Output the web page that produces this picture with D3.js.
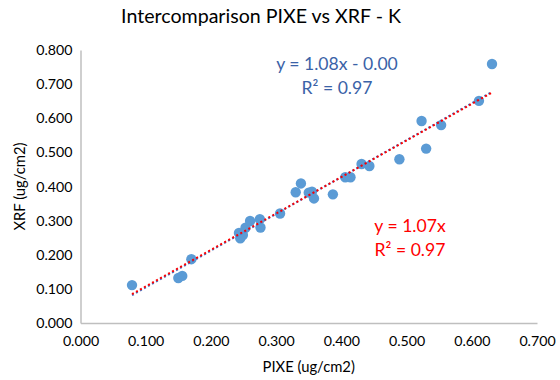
<!DOCTYPE html>
<html>
<head>
<meta charset="utf-8">
<script src="https://cdn.jsdelivr.net/npm/d3@7"></script>
<style>
  body { margin: 0; background: #fff; }
  text { font-family: Lato, "Open Sans", sans-serif; }
</style>
</head>
<body>
<div id="chart"></div>
<script>
// PIXE vs XRF values for K
var pixe = [0.079, 0.150, 0.156, 0.170, 0.243, 0.245, 0.249, 0.253, 0.260, 0.275,
  0.276, 0.306, 0.330, 0.338, 0.350, 0.355, 0.358, 0.387, 0.406, 0.414,
  0.431, 0.443, 0.489, 0.523, 0.530, 0.553, 0.611, 0.631];
var xrf = [0.111, 0.132, 0.138, 0.187, 0.264, 0.248, 0.258, 0.279, 0.299, 0.304,
  0.280, 0.321, 0.383, 0.409, 0.382, 0.385, 0.365, 0.377, 0.427, 0.427,
  0.466, 0.460, 0.480, 0.592, 0.511, 0.580, 0.651, 0.759];

var xTicks = [0, 0.1, 0.2, 0.3, 0.4, 0.5, 0.6, 0.7];
var yTicks = [0, 0.1, 0.2, 0.3, 0.4, 0.5, 0.6, 0.7, 0.8];

// trendlines (from the labels on the chart)
var blueFit = {slope: 1.08, intercept: -0.004, label: ['y = 1.08x - 0.00', 'R² = 0.97']};
var redFit = {slope: 1.07, intercept: 0, label: ['y = 1.07x', 'R² = 0.97']};

var width = 560, height = 380;
var plotLeft = 80.5, plotRight = 537, plotTop = 50, plotBottom = 323;

var svg = d3.select('#chart').append('svg').attr('width', width).attr('height', height);

var x = d3.scaleLinear().domain([0, 0.7]).range([plotLeft, plotRight]);
var y = d3.scaleLinear().domain([0, 0.8]).range([plotBottom, plotTop]);

svg.append('text')
  .attr('x', 261).attr('y', 23)
  .attr('text-anchor', 'middle')
  .attr('font-size', 19.6)
  .attr('fill', '#000')
  .text('Intercomparison PIXE vs XRF - K');

// axes (no tick marks, grey domain line)
var xAxis = svg.append('g').attr('transform', 'translate(0,' + plotBottom + ')')
  .call(d3.axisBottom(x).tickValues(xTicks).tickSize(0).tickPadding(13).tickFormat(d3.format('.3f')));
var yAxis = svg.append('g').attr('transform', 'translate(' + plotLeft + ',0)')
  .call(d3.axisLeft(y).tickValues(yTicks).tickSize(0).tickPadding(8).tickFormat(d3.format('.3f')));

[xAxis, yAxis].forEach(function(a) {
  a.select('.domain').attr('stroke', '#bfbfbf').attr('stroke-width', 1.5);
  a.selectAll('text').attr('font-size', 14.2).attr('fill', '#000').style('font-family', 'Lato, sans-serif');
});

svg.append('text')
  .attr('x', (plotLeft + plotRight) / 2).attr('y', 372)
  .attr('text-anchor', 'middle')
  .attr('font-size', 14.8)
  .text('PIXE (ug/cm2)');

svg.append('text')
  .attr('transform', 'translate(25,' + (plotTop + plotBottom) / 2 + ') rotate(-90)')
  .attr('text-anchor', 'middle')
  .attr('font-size', 14.8)
  .text('XRF (ug/cm2)');

// points
svg.append('g').selectAll('circle')
  .data(pixe)
  .enter()
  .append('circle')
  .attr('cx', function(d) { return x(d); })
  .attr('cy', function(d, i) { return y(xrf[i]); })
  .attr('r', 5.2)
  .attr('fill', '#5b9bd5');

// dotted trendlines over the x range of the data
var xMin = d3.min(pixe), xMax = d3.max(pixe);
function drawFit(fit, color, w) {
  svg.append('line')
    .attr('x1', x(xMin)).attr('y1', y(fit.slope * xMin + fit.intercept))
    .attr('x2', x(xMax)).attr('y2', y(fit.slope * xMax + fit.intercept))
    .attr('stroke', color)
    .attr('stroke-width', w)
    .attr('stroke-dasharray', '2,2.6');
}
drawFit(blueFit, '#4472c4', 2);
drawFit(redFit, '#ff0000', 2);

function drawLabel(fit, color, cx, cy) {
  svg.append('g').selectAll('text')
    .data(fit.label)
    .enter()
    .append('text')
    .attr('x', cx)
    .attr('y', function(d, i) { return cy + i * 24; })
    .attr('text-anchor', 'middle')
    .attr('font-size', 17.6)
    .attr('fill', color)
    .text(function(d) { return d; });
}
drawLabel(blueFit, '#3a62a7', 337, 70);
drawLabel(redFit, '#ff0000', 410, 232);
</script>
</body>
</html>
